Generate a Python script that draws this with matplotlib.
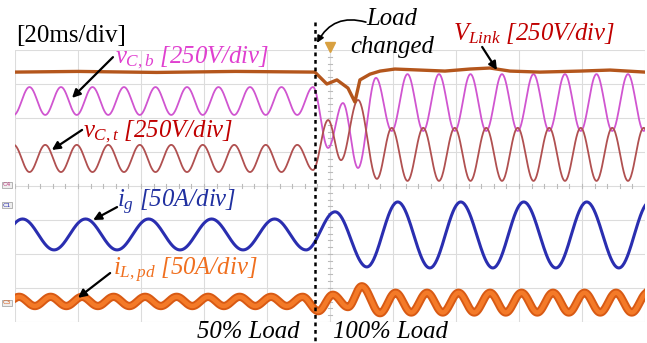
import matplotlib
matplotlib.use("Agg")
import matplotlib.pyplot as plt
import numpy as np

plt.rcParams['font.family'] = 'Liberation Serif'
plt.rcParams['mathtext.fontset'] = 'custom'
plt.rcParams['mathtext.rm'] = 'Liberation Serif'
plt.rcParams['mathtext.it'] = 'Liberation Serif:italic'

# scope screen: 10 div x 20 ms, 8 vertical div
T_DIV = 20
N_XDIV = 10
N_YDIV = 8
T_STEP = 95.2  # load step instant, ms

# turning points of each trace: time (ms), level (div)
vcb_t = [-0.4, 4.6, 9.6, 14.6, 19.6, 24.6, 29.6, 34.6, 39.6, 44.6, 49.6,
         54.6, 59.6, 64.6, 69.6, 74.6, 79.6, 84.6, 89.6, 94.6,
         99.4, 104.1, 108.9, 114.6,
         119.6, 124.6, 129.6, 134.6, 139.6, 144.6, 149.6, 154.6, 159.6,
         164.6, 169.6, 174.6, 179.6, 184.6, 189.6, 194.6, 199.6, 204.6]
vcb_v = [6.09, 6.91, 6.09, 6.91, 6.09, 6.91, 6.09, 6.91, 6.09, 6.91, 6.09,
         6.91, 6.09, 6.91, 6.09, 6.91, 6.09, 6.91, 6.09, 6.91,
         5.12, 6.44, 4.53, 7.18,
         5.62, 7.29, 5.62, 7.29, 5.62, 7.29, 5.62, 7.29, 5.62,
         7.29, 5.62, 7.29, 5.62, 7.29, 5.62, 7.29, 5.62, 7.29]

vct_t = [-0.4, 4.6, 9.6, 14.6, 19.6, 24.6, 29.6, 34.6, 39.6, 44.6, 49.6,
         54.6, 59.6, 64.6, 69.6, 74.6, 79.6, 84.6, 89.6, 94.6,
         99.4, 103.5, 108.9, 114.9,
         119.6, 124.6, 129.6, 134.6, 139.6, 144.6, 149.6, 154.6, 159.6,
         164.6, 169.6, 174.6, 179.6, 184.6, 189.6, 194.6, 199.6, 204.6]
vct_v = [5.21, 4.41, 5.21, 4.41, 5.21, 4.41, 5.21, 4.41, 5.21, 4.41, 5.21,
         4.41, 5.21, 4.41, 5.21, 4.41, 5.21, 4.41, 5.21, 4.47,
         5.94, 4.76, 6.53, 4.21,
         5.71, 4.15, 5.71, 4.15, 5.71, 4.15, 5.71, 4.15, 5.71,
         4.15, 5.71, 4.15, 5.71, 4.15, 5.71, 4.15, 5.71, 4.15]

vlink_t = [0, 20, 45, 70, 95.2, 99.0, 102.2, 105.7, 107.9, 109.5, 112.7,
           115.9, 120.6, 128.6, 136.5, 144.4, 150.8, 157.1, 166.7, 179.4,
           188.9, 200]
vlink_v = [7.35, 7.37, 7.34, 7.37, 7.35, 7.00, 7.12, 6.88, 6.47, 7.12, 7.29,
           7.38, 7.44, 7.41, 7.38, 7.44, 7.47, 7.38, 7.35, 7.38,
           7.41, 7.35]

ig_t = [-7.6, 2.4, 12.4, 22.4, 32.4, 42.4, 52.4, 62.4, 72.4, 82.4, 92.4,
        101.6, 111.7, 121.5, 131.7, 141.5, 151.7, 161.5, 171.7, 181.5,
        191.7, 201.5]
ig_v = [2.12, 3.03, 2.12, 3.03, 2.12, 3.03, 2.12, 3.03, 2.12, 3.03, 2.12,
        3.24, 1.62, 3.53, 1.59, 3.53, 1.59, 3.53, 1.59, 3.53,
        1.59, 3.53]

ilpd_t = [-3.7, 1.3, 6.3, 11.3, 16.3, 21.3, 26.3, 31.3, 36.3, 41.3, 46.3,
          51.3, 56.3, 61.3, 66.3, 71.3, 76.3, 81.3, 86.3, 91.3,
          96.3, 100.9, 105.7, 110.1, 115.9,
          120.8, 125.8, 130.8, 135.8, 140.8, 145.8, 150.8, 155.8, 160.8,
          165.8, 170.8, 175.8, 180.8, 185.8, 190.8, 195.8, 200.8]
ilpd_v = [0.47, 0.74, 0.47, 0.74, 0.47, 0.74, 0.47, 0.74, 0.47, 0.74, 0.47,
          0.74, 0.47, 0.74, 0.47, 0.74, 0.47, 0.74, 0.47, 0.74,
          0.32, 0.80, 0.44, 1.05, 0.26,
          0.86, 0.28, 0.86, 0.28, 0.86, 0.28, 0.86, 0.28, 0.86,
          0.28, 0.86, 0.28, 0.86, 0.28, 0.86, 0.28, 0.86]


def smooth_path(ts, vs, n=40):
    # join turning points with half-cosine arcs
    xs, ys = [], []
    for i in range(len(ts) - 1):
        s = np.linspace(0, 1, n, endpoint=False)
        w = 0.5 - 0.5 * np.cos(np.pi * s)
        xs.append(ts[i] + (ts[i + 1] - ts[i]) * s)
        ys.append(vs[i] + (vs[i + 1] - vs[i]) * w)
    xs.append([ts[-1]])
    ys.append([vs[-1]])
    return np.concatenate(xs), np.concatenate(ys)


fig = plt.figure(figsize=(6.47, 3.43), dpi=100)
ax = fig.add_axes([15 / 647, 21 / 343, 630 / 647, 272 / 343])
ax.set_xlim(0, T_DIV * N_XDIV)
ax.set_ylim(0, N_YDIV)
ax.axis('off')

# graticule
grid_c = '#dcdcdc'
for k in range(N_XDIV + 1):
    ax.axvline(k * T_DIV, color=grid_c, lw=0.8, zorder=0)
for k in range(N_YDIV + 1):
    ax.axhline(k, color=grid_c, lw=0.8, zorder=0)
for t in np.arange(0, T_DIV * N_XDIV, T_DIV / 5):
    ax.plot([t, t], [N_YDIV / 2 - 0.07, N_YDIV / 2 + 0.07], color='#bbbbbb', lw=0.8, zorder=0)
for v in np.arange(0, N_YDIV, 0.2):
    ax.plot([100 - 0.7, 100 + 0.7], [v, v], color='#bbbbbb', lw=0.8, zorder=0)

# traces
x, y = smooth_path(vcb_t, vcb_v)
ax.plot(x, y, color='#d055d0', lw=1.3, zorder=3)
x, y = smooth_path(vct_t, vct_v)
ax.plot(x, y, color='#b05050', lw=1.3, zorder=3)
ax.plot(vlink_t, vlink_v, color='#b4561c', lw=2.4, zorder=4)
x, y = smooth_path(ig_t, ig_v)
ax.plot(x, y, color='#2a2eb0', lw=2.2, zorder=3)
x, y = smooth_path(ilpd_t, ilpd_v)
ax.plot(x, y, color='#d85a14', lw=6.0, zorder=3)
ax.plot(x, y, color='#f47a28', lw=3.2, zorder=3)

# trigger marker and channel tags
ax.plot([100], [8.09], marker='v', color='#d8a040', ms=7, clip_on=False, zorder=5)
for lab, v, c in [('C4', 4.03, '#c04080'), ('C1', 3.44, '#2a2eb0'), ('C3', 0.56, '#d85a14')]:
    ax.text(-2.6, v, lab, fontsize=4.5, color=c, ha='center', va='center',
            family='DejaVu Sans', clip_on=False,
            bbox=dict(boxstyle='square,pad=0.15', fc='#eeeeee', ec='#999999', lw=0.5))

# load step marker
ax.plot([T_STEP, T_STEP], [8.82, -0.62], color='black', lw=1.8,
        linestyle=(0, (1.5, 1.5)), clip_on=False, zorder=6)

fs = 17.8
it = dict(style='italic', fontsize=fs, clip_on=False)
ax.text(0.3, 8.24, '[20ms/div]', fontsize=18, color='black', va='baseline', clip_on=False)
ax.text(31.7, 7.62, r'$v_{C,b}$ [250V/div]', color='#e040d0', va='baseline', **it)
ax.text(21.6, 5.44, r'$v_{C,t}$ [250V/div]', color='#c00000', va='baseline', **it)
ax.text(139.0, 8.29, r'$V_{Link}$ [250V/div]', color='#c00000', va='baseline', **it)
ax.text(32.4, 3.38, r'$i_{g}$ [50A/div]', color='#2030a0', va='baseline', **it)
ax.text(31.1, 1.38, r'$i_{L,pd}$ [50A/div]', color='#f07020', va='baseline', **it)
ax.text(119.7, 8.74, 'Load', color='black', ha='center', va='baseline', **it)
ax.text(119.7, 7.91, 'changed', color='black', ha='center', va='baseline', **it)
ax.text(57.8, -0.48, '50% Load', color='black', va='baseline', **it)
ax.text(101.0, -0.46, '100% Load', color='black', va='baseline', **it)

arrow = dict(arrowstyle='-|>', color='black', lw=1.6, mutation_scale=12,
             shrinkA=0, shrinkB=0)
for tail, head in [((31.1, 7.79), (18.1, 6.59)),
                   ((21.3, 5.65), (11.7, 5.06)),
                   ((148.3, 8.09), (153.0, 7.41)),
                   ((32.4, 3.38), (24.8, 3.0)),
                   ((30.2, 1.44), (20.0, 0.71))]:
    ax.annotate('', xy=head, xytext=tail, arrowprops=arrow, annotation_clip=False, zorder=7)
ax.annotate('', xy=(95.9, 8.21), xytext=(111.4, 8.82), annotation_clip=False,
            arrowprops=dict(arrowstyle='-|>', color='black', lw=1.2, mutation_scale=10,
                            shrinkA=0, shrinkB=0, connectionstyle='arc3,rad=0.4'))

fig.savefig('out.png', dpi=100, facecolor='white')
